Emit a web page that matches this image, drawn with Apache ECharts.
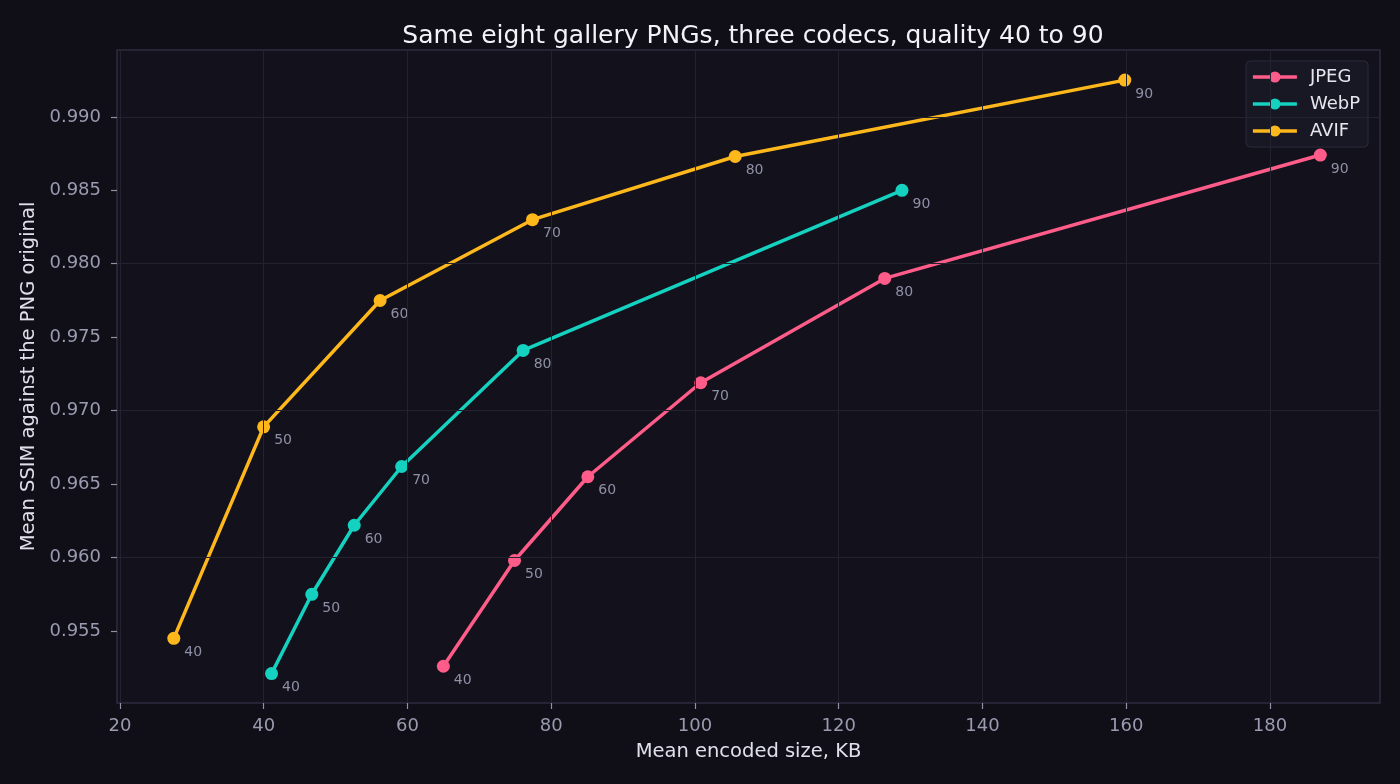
<!DOCTYPE html>
<html lang="en">
<head>
<meta charset="UTF-8">
<title>Codec quality sweep</title>
<script src="https://cdn.jsdelivr.net/npm/echarts@6/dist/echarts.min.js"></script>
<style>
    html, body { margin: 0; padding: 0; background: #100f18; }
    #main { width: 1400px; height: 784px; }
</style>
</head>
<body>
<div id="main"></div>
<script>
    // quality steps used as point labels
    var qualities = [40, 50, 60, 70, 80, 90];

    // mean size in KB, mean SSIM
    var jpegSize = [65.0, 74.9, 85.1, 100.8, 126.4, 187.0];
    var jpegSsim = [0.9526, 0.9598, 0.9655, 0.9719, 0.9790, 0.9874];
    var webpSize = [41.1, 46.7, 52.6, 59.2, 76.1, 128.8];
    var webpSsim = [0.9521, 0.9575, 0.9622, 0.9662, 0.9741, 0.9850];
    var avifSize = [27.5, 40.0, 56.2, 77.4, 105.6, 159.8];
    var avifSsim = [0.9545, 0.9689, 0.9775, 0.9830, 0.9873, 0.9925];

    // tick labels
    var xTicks = [20, 40, 60, 80, 100, 120, 140, 160, 180];
    var yTicks = [0.955, 0.96, 0.965, 0.97, 0.975, 0.98, 0.985, 0.99];

    var textFont = 'DejaVu Sans';
    var gridColor = '#23222f';
    var chart = echarts.init(document.getElementById('main'));

    function pairs(xs, ys) {
        return xs.map(function (x, i) { return [x, ys[i], qualities[i]]; });
    }

    function codec(name, color, xs, ys) {
        return {
            name: name,
            type: 'line',
            data: pairs(xs, ys),
            symbol: 'circle',
            symbolSize: 13,
            lineStyle: { width: 3.5, color: color },
            itemStyle: { color: color },
            label: {
                show: true,
                position: 'right',
                distance: 4,
                offset: [0, 14],
                formatter: function (p) { return p.value[2]; },
                color: '#8f8fa6',
                fontSize: 14,
                fontFamily: textFont
            },
            emphasis: { disabled: true },
            z: 3
        };
    }

    chart.setOption({
        backgroundColor: '#100f18',
        animation: false,
        title: {
            text: 'Same eight gallery PNGs, three codecs, quality 40 to 90',
            left: 748, top: 19, textAlign: 'center',
            textStyle: { color: '#f2f2f7', fontSize: 25, fontWeight: 'normal', fontFamily: textFont }
        },
        legend: {
            right: 32, top: 61,
            orient: 'vertical',
            backgroundColor: '#181724',
            borderColor: '#2c2b3b',
            borderWidth: 1,
            borderRadius: 4,
            padding: [7, 8, 7, 5],
            itemWidth: 44, itemHeight: 14, itemGap: 9,
            lineStyle: { width: 3.5 },
            textStyle: { color: '#e6e6ef', fontSize: 18, fontFamily: textFont, padding: [0, 0, 0, 8] },
            data: ['JPEG', 'WebP', 'AVIF']
        },
        grid: {
            left: 117, right: 20, top: 50, bottom: 81,
            show: true,
            backgroundColor: '#13121c',
            borderColor: '#2e2d3e',
            borderWidth: 1.5
        },
        xAxis: {
            type: 'value',
            min: 19.6, max: 195.3,
            name: 'Mean encoded size, KB',
            nameLocation: 'middle', nameGap: 39,
            nameTextStyle: { color: '#e0e0ea', fontSize: 19.5, fontFamily: textFont },
            axisLine: { show: false },
            axisTick: { show: true, length: 6, lineStyle: { color: '#8f8fa6', width: 1.2 }, customValues: xTicks },
            axisLabel: {
                color: '#9a9ab0', fontSize: 18, fontFamily: textFont, margin: 14,
                customValues: xTicks
            },
            splitLine: { show: false }
        },
        yAxis: {
            type: 'value',
            min: 0.9501, max: 0.99455,
            name: 'Mean SSIM against the PNG original',
            nameLocation: 'middle', nameGap: 77,
            nameTextStyle: { color: '#e0e0ea', fontSize: 19.5, fontFamily: textFont },
            axisLine: { show: false },
            axisTick: { show: true, length: 6, lineStyle: { color: '#8f8fa6', width: 1.2 }, customValues: yTicks },
            axisLabel: {
                color: '#9a9ab0', fontSize: 18, fontFamily: textFont, margin: 16,
                customValues: yTicks,
                formatter: function (v) { return v.toFixed(3); }
            },
            splitLine: { show: false }
        },
        series: [
            codec('JPEG', '#ff5c8a', jpegSize, jpegSsim),
            codec('WebP', '#14d1c0', webpSize, webpSsim),
            codec('AVIF', '#ffb81c', avifSize, avifSsim),
            {
                // grid lines at the tick values
                type: 'line', silent: true, data: [],
                markLine: {
                    symbol: 'none', silent: true, label: { show: false },
                    lineStyle: { color: gridColor, type: 'solid', width: 1 },
                    data: yTicks.map(function (v) { return { yAxis: v }; })
                        .concat(xTicks.map(function (v) { return { xAxis: v }; }))
                },
                z: 1
            }
        ]
    });
</script>
</body>
</html>
